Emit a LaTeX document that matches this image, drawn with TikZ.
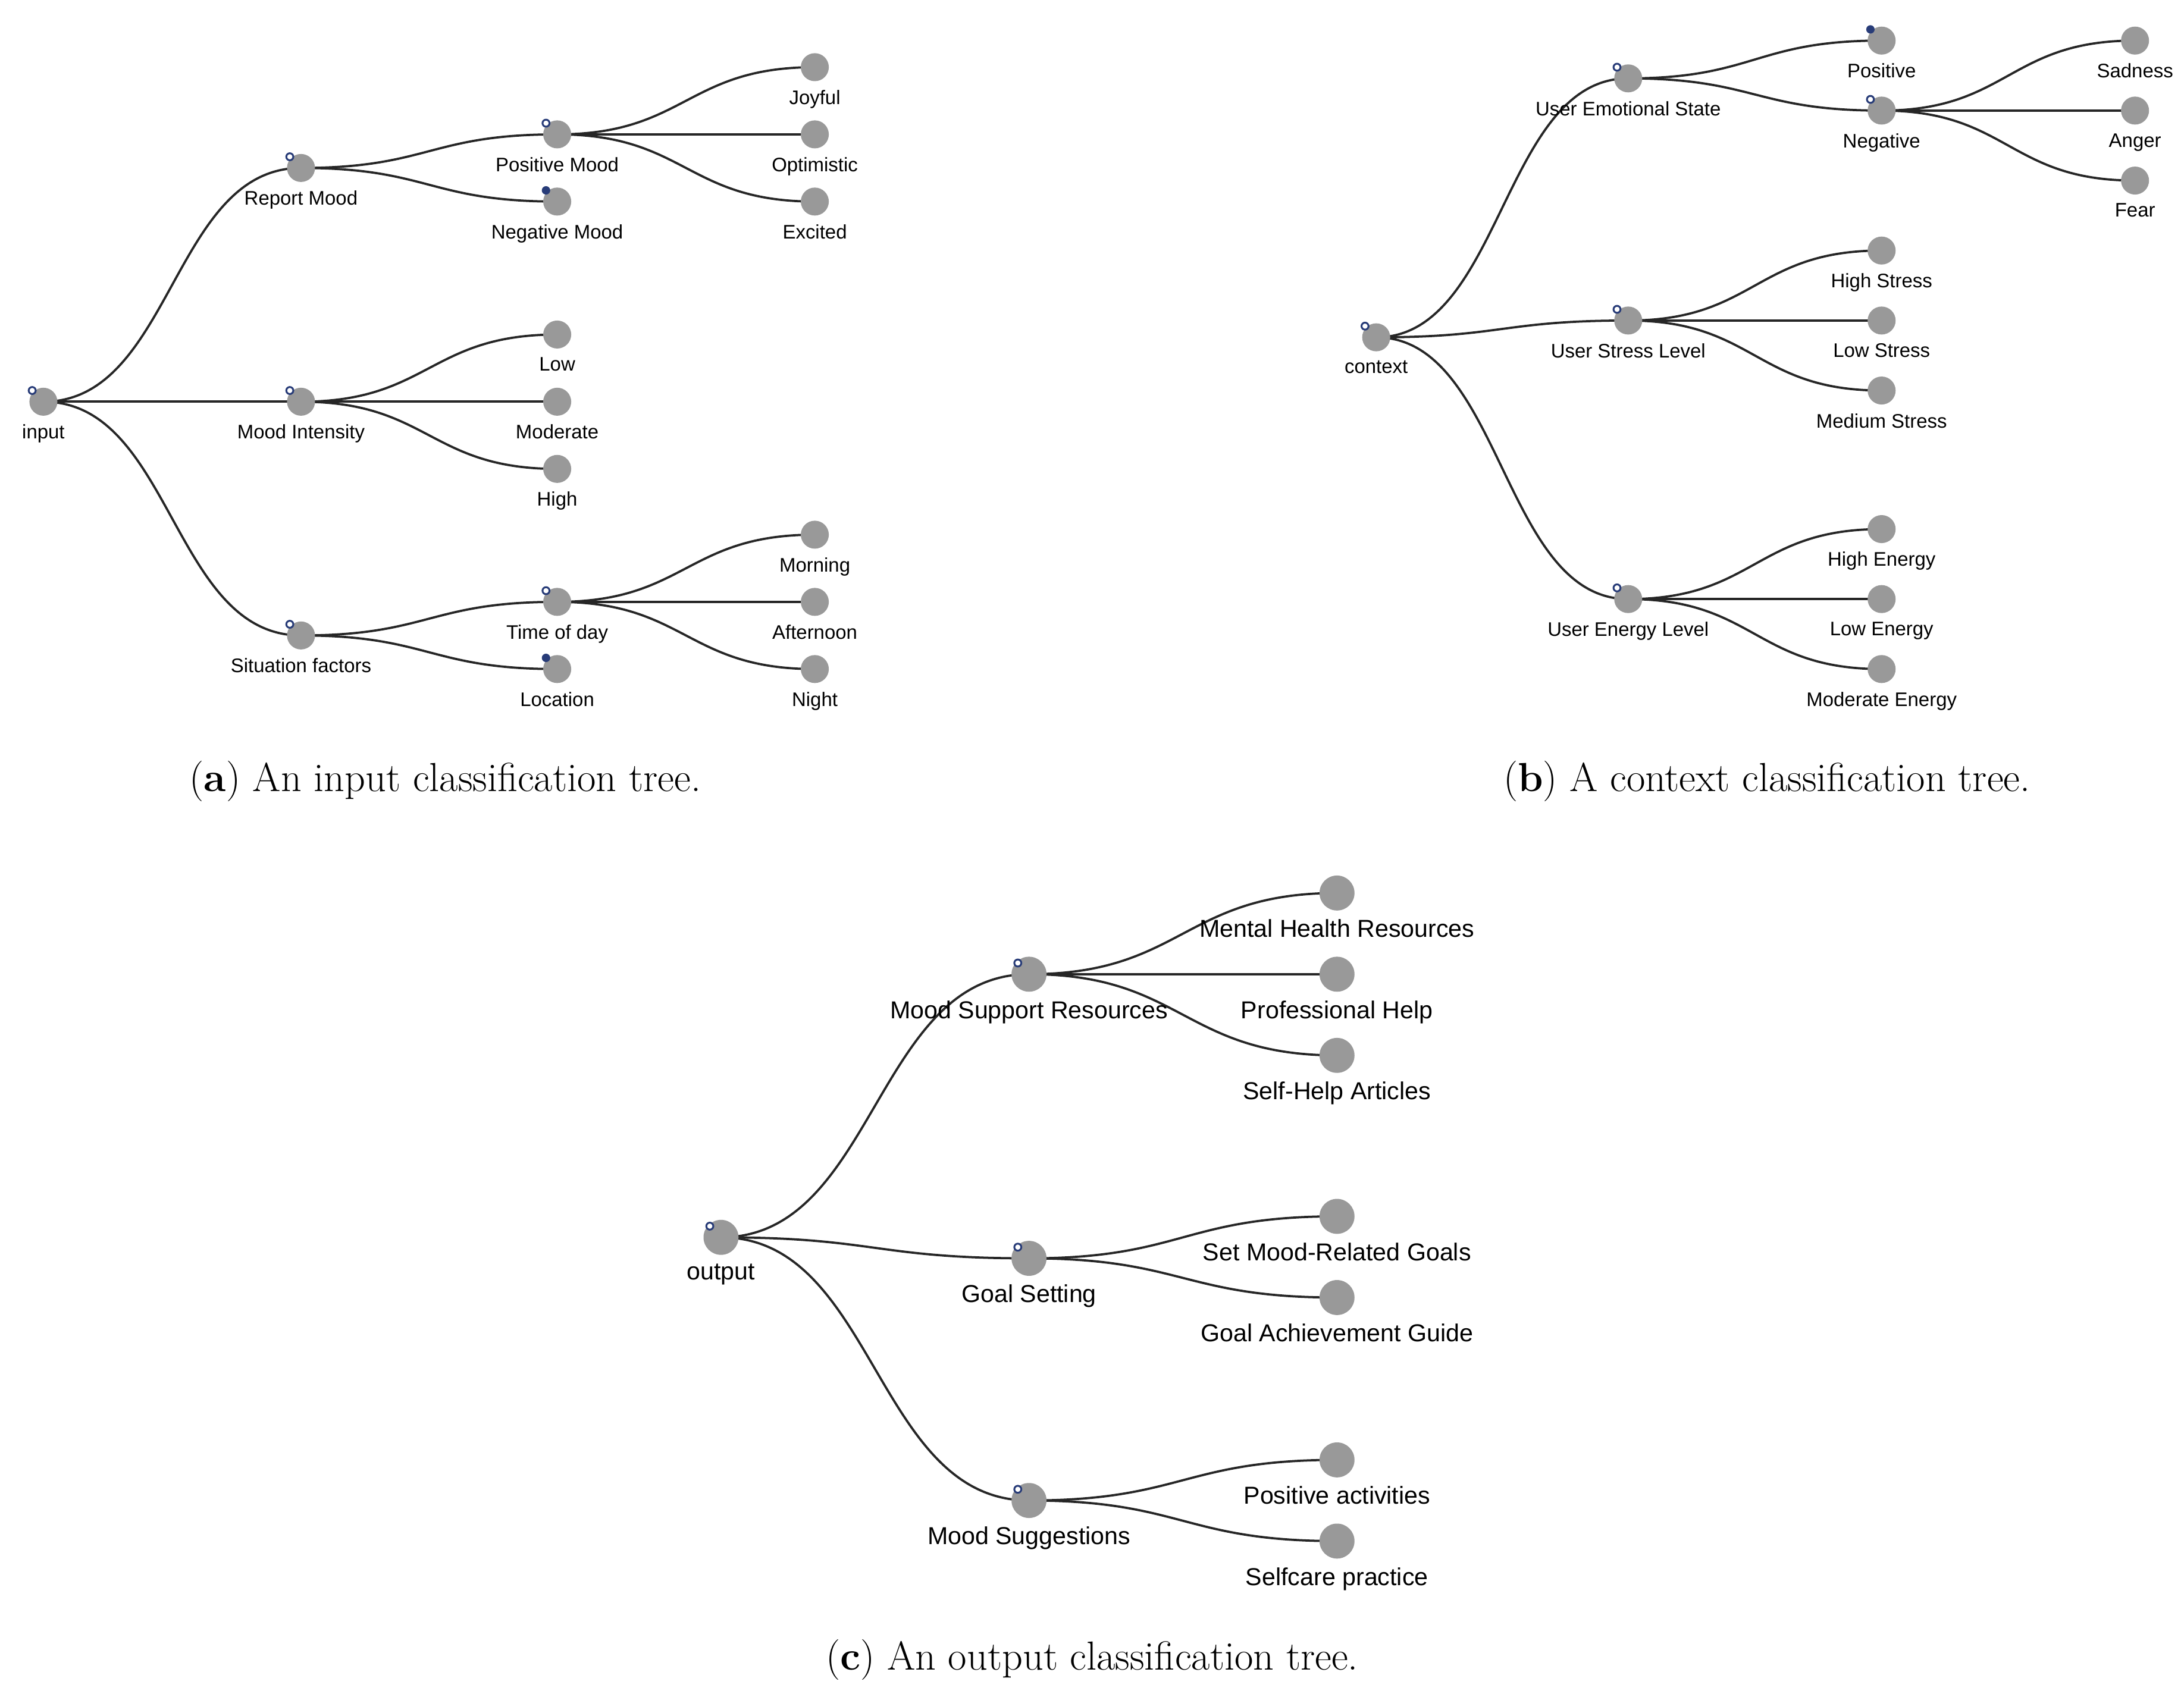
\documentclass[tikz,border=0pt]{standalone}
\usepackage{fontspec}
\setmainfont{Liberation Sans}
\usetikzlibrary{backgrounds,calc}
\definecolor{ng}{RGB}{153,153,153}
\definecolor{mk}{RGB}{40,60,120}
\tikzset{
  nd/.style={circle,fill=ng,inner sep=0pt,minimum size=20pt},
  bignd/.style={circle,fill=ng,inner sep=0pt,minimum size=25pt},
  lab/.style={font=\fontsize{14}{16}\selectfont,inner sep=0pt},
  biglab/.style={font=\fontsize{17.5}{20}\selectfont,inner sep=0pt},
  mko/.style={circle,draw=mk,line width=1.3pt,fill=white,inner sep=0pt,minimum size=5pt},
  mkf/.style={circle,fill=mk,inner sep=0pt,minimum size=6pt},
  lnk/.style={line width=1.6pt,black!85},
  capt/.style={font=\capfont\fontsize{29}{32}\selectfont,inner sep=0pt}
}
\newfontfamily\capfont{Latin Modern Roman}
\newcommand{\tn}[6]{% name, x, y, label, node style, label style
  \node[#5] (#1) at (#2,#3) {};
  \node[#6,anchor=north] (#1l) at ([yshift=-6pt]#1.south) {#4};}
\newcommand{\mo}[1]{\node[mko] (#1m) at ([shift={(-8pt,8pt)}]#1.center) {};}
\newcommand{\mf}[1]{\node[mkf] (#1m) at ([shift={(-8pt,8pt)}]#1.center) {};}
\newcommand{\lk}[2]{\draw[lnk] let \p1=(#1.center), \p2=(#2.center) in (#1.center) .. controls ({(\x1+\x2)/2},\y1) and ({(\x1+\x2)/2},\y2) .. (#2.center);}
\begin{document}
\begin{tikzpicture}[x=1pt,y=-1pt]
\useasboundingbox (0,0) rectangle (1560,1210);
% (a)
\tn{in}{31}{287}{input}{nd}{lab}
\tn{rm}{215}{120}{Report Mood}{nd}{lab}
\tn{mi}{215}{287}{Mood Intensity}{nd}{lab}
\tn{sf}{215}{454}{Situation factors}{nd}{lab}
\tn{pm}{398}{96}{Positive Mood}{nd}{lab}
\tn{nm}{398}{144}{Negative Mood}{nd}{lab}
\tn{jo}{582}{48}{Joyful}{nd}{lab}
\tn{op}{582}{96}{Optimistic}{nd}{lab}
\tn{ex}{582}{144}{Excited}{nd}{lab}
\tn{lo}{398}{239}{Low}{nd}{lab}
\tn{mo}{398}{287}{Moderate}{nd}{lab}
\tn{hi}{398}{335}{High}{nd}{lab}
\tn{td}{398}{430}{Time of day}{nd}{lab}
\tn{lc}{398}{478}{Location}{nd}{lab}
\tn{mn}{582}{382}{Morning}{nd}{lab}
\tn{af}{582}{430}{Afternoon}{nd}{lab}
\tn{ni}{582}{478}{Night}{nd}{lab}
\mo{in}\mo{rm}\mo{mi}\mo{sf}\mo{pm}\mf{nm}\mo{td}\mf{lc}
% (b)
\tn{cx}{983}{241}{context}{nd}{lab}
\tn{ue}{1163}{56}{User Emotional State}{nd}{lab}
\tn{us}{1163}{229}{User Stress Level}{nd}{lab}
\tn{un}{1163}{428}{User Energy Level}{nd}{lab}
\tn{po}{1344}{29}{Positive}{nd}{lab}
\tn{ne}{1344}{79}{Negative}{nd}{lab}
\tn{sa}{1525}{29}{Sadness}{nd}{lab}
\tn{an}{1525}{79}{Anger}{nd}{lab}
\tn{fe}{1525}{129}{Fear}{nd}{lab}
\tn{hs}{1344}{179}{High Stress}{nd}{lab}
\tn{ls}{1344}{229}{Low Stress}{nd}{lab}
\tn{ms}{1344}{279}{Medium Stress}{nd}{lab}
\tn{he}{1344}{378}{High Energy}{nd}{lab}
\tn{le}{1344}{428}{Low Energy}{nd}{lab}
\tn{me}{1344}{478}{Moderate Energy}{nd}{lab}
\mo{cx}\mo{ue}\mo{us}\mo{un}\mf{po}\mo{ne}
% (c)
\tn{ou}{515}{884}{output}{bignd}{biglab}
\tn{sr}{735}{696}{Mood Support Resources}{bignd}{biglab}
\tn{gs}{735}{899}{Goal Setting}{bignd}{biglab}
\tn{su}{735}{1072}{Mood Suggestions}{bignd}{biglab}
\tn{mh}{955}{638}{Mental Health Resources}{bignd}{biglab}
\tn{ph}{955}{696}{Professional Help}{bignd}{biglab}
\tn{sh}{955}{754}{Self-Help Articles}{bignd}{biglab}
\tn{sg}{955}{869}{Set Mood-Related Goals}{bignd}{biglab}
\tn{ga}{955}{927}{Goal Achievement Guide}{bignd}{biglab}
\tn{pa}{955}{1043}{Positive activities}{bignd}{biglab}
\tn{sc}{955}{1101}{Selfcare practice}{bignd}{biglab}
\mo{ou}\mo{sr}\mo{gs}\mo{su}
\begin{scope}[on background layer]
\lk{in}{rm}\lk{in}{mi}\lk{in}{sf}
\lk{rm}{pm}\lk{rm}{nm}\lk{pm}{jo}\lk{pm}{op}\lk{pm}{ex}
\lk{mi}{lo}\lk{mi}{mo}\lk{mi}{hi}
\lk{sf}{td}\lk{sf}{lc}\lk{td}{mn}\lk{td}{af}\lk{td}{ni}
\lk{cx}{ue}\lk{cx}{us}\lk{cx}{un}
\lk{ue}{po}\lk{ue}{ne}\lk{ne}{sa}\lk{ne}{an}\lk{ne}{fe}
\lk{us}{hs}\lk{us}{ls}\lk{us}{ms}
\lk{un}{he}\lk{un}{le}\lk{un}{me}
\lk{ou}{sr}\lk{ou}{gs}\lk{ou}{su}
\lk{sr}{mh}\lk{sr}{ph}\lk{sr}{sh}
\lk{gs}{sg}\lk{gs}{ga}\lk{su}{pa}\lk{su}{sc}
\end{scope}
% captions
\node[capt] (ca) at (318,558) {(\textbf{a}) An input classification tree.};
\node[capt] (cb) at (1262,558) {(\textbf{b}) A context classification tree.};
\node[capt] (cc) at (780,1186) {(\textbf{c}) An output classification tree.};
\end{tikzpicture}
\end{document}
